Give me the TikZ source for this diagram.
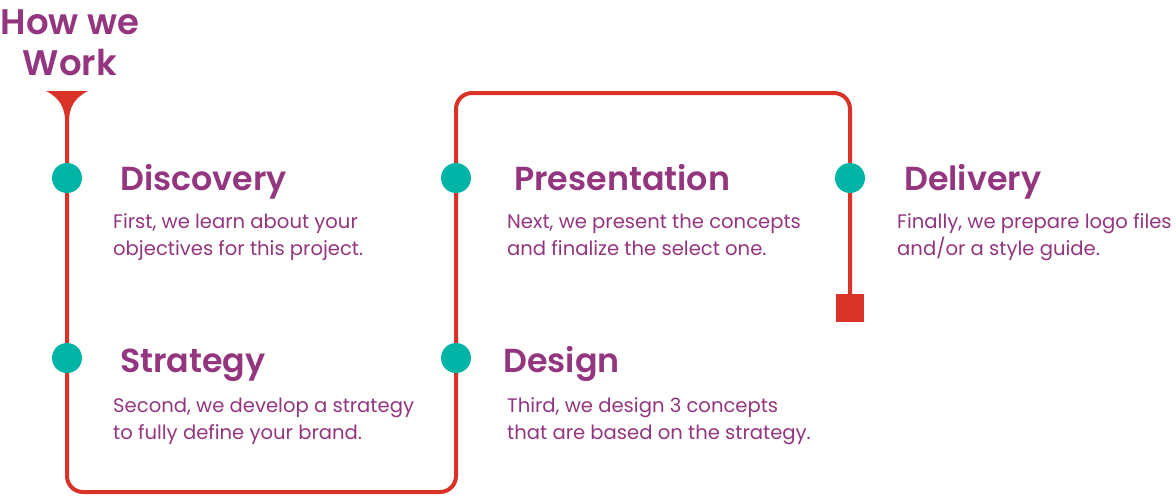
\documentclass[tikz,border=0pt]{standalone}
\usepackage{fontspec}
\setmainfont{Poppins}
\newfontfamily\headfont{Poppins SemiBold}
\newfontfamily\bodyfont{Poppins}
\definecolor{plum}{HTML}{93357F}
\definecolor{linered}{HTML}{D93327}
\definecolor{teal}{HTML}{00B5A5}
\begin{document}
\begin{tikzpicture}[x=1pt,y=-1pt,
  dot/.style={circle,fill=teal,minimum size=30pt,inner sep=0pt},
  heading/.style={anchor=base west,inner sep=0pt,text=plum,font=\fontsize{33.3}{38}\headfont},
  body/.style={anchor=base west,inner sep=0pt,text=plum,font=\fontsize{19.6}{27}\bodyfont},
  titletext/.style={anchor=base,inner sep=0pt,text=plum,font=\fontsize{35.5}{41}\headfont},
  route/.style={draw=linered,line width=4pt,rounded corners=16pt}]
\useasboundingbox (0,0) rectangle (1176,496);
% title
\node[titletext] (t1) at (70,34) {How we};
\node[titletext] (t2) at (70,75) {Work};
% route
\coordinate (start) at (67,93);
\coordinate (bl) at (67,492);
\coordinate (br) at (456,492);
\coordinate (tl) at (456,93);
\coordinate (tr) at (850,93);
\node[fill=linered,minimum size=28pt,inner sep=0pt] (endsq) at (850,308) {};
\draw[route] (start) -- (bl) -- (br) -- (tl) -- (tr) -- (endsq.north);
% arrow head
\fill[linered] (46,91) -- (88,91) .. controls (74,98) and (69,108) .. (68.8,122) -- (65.2,122) .. controls (65,108) and (60,98) .. (46,91) -- cycle;
% dots
\node[dot] (d1) at (67,178) {};
\node[dot] (d2) at (67,358) {};
\node[dot] (d3) at (456,178) {};
\node[dot] (d4) at (456,358) {};
\node[dot] (d5) at (850,178) {};
% texts
\node[heading] (h1) at (120,190) {Discovery};
\node[body] (b1a) at (113,228) {First, we learn about your};
\node[body] (b1b) at (113,255) {objectives for this project.};
\node[heading] (h2) at (120,372) {Strategy};
\node[body] (b2a) at (113,412) {Second, we develop a strategy};
\node[body] (b2b) at (113,439) {to fully define your brand.};
\node[heading] (h3) at (514,190) {Presentation};
\node[body] (b3a) at (507,228) {Next, we present the concepts};
\node[body] (b3b) at (507,255) {and finalize the select one.};
\node[heading] (h4) at (503,372) {Design};
\node[body] (b4a) at (507,412) {Third, we design 3 concepts};
\node[body] (b4b) at (507,439) {that are based on the strategy.};
\node[heading] (h5) at (904,190) {Delivery};
\node[body] (b5a) at (897,228) {Finally, we prepare logo files};
\node[body] (b5b) at (897,255) {and/or a style guide.};
\end{tikzpicture}
\end{document}
